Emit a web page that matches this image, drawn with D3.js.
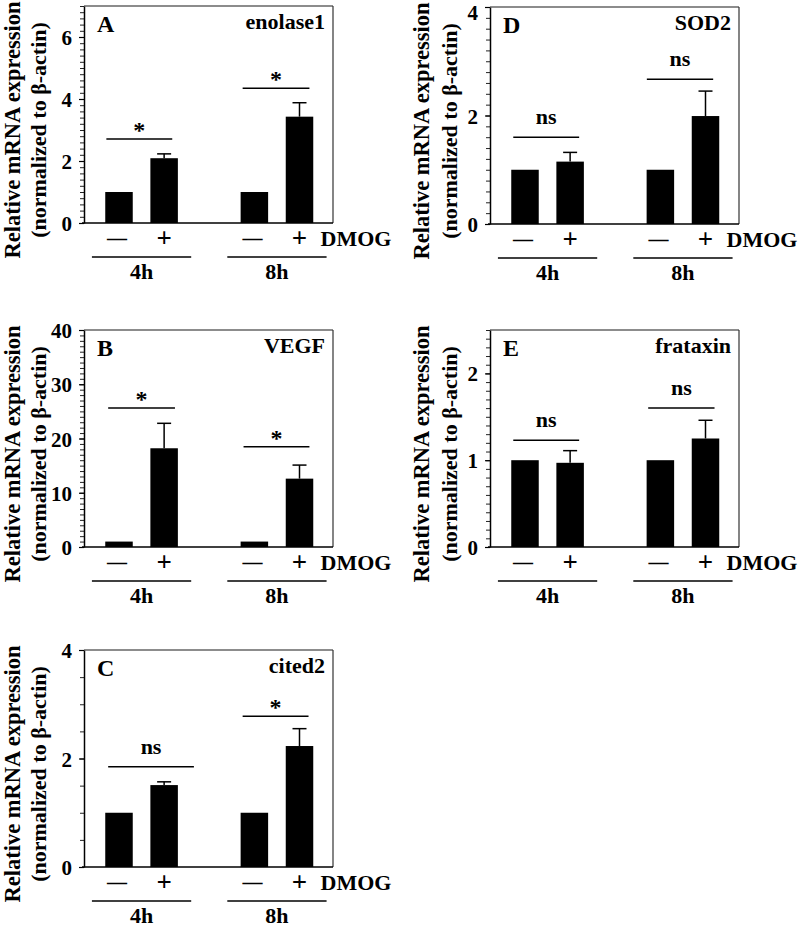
<!DOCTYPE html>
<html><head><meta charset="utf-8">
<script src="https://cdn.jsdelivr.net/npm/d3@7"></script>
<style>body{margin:0;background:#fff}svg text{font-family:"Liberation Serif","Times New Roman",serif;font-weight:bold;fill:#000}</style>
</head><body><svg id="c" width="800" height="928" font-family="Liberation Serif"></svg>
<script>
// ---- data ----
const panelLetters = ["A", "B", "C", "D", "E"];
const genes = ["enolase1", "VEGF", "cited2", "SOD2", "frataxin"];
const yMax = [7, 40, 4, 4, 2.5];
const yMajorStep = [2, 10, 2, 2, 1];
const yMinorStep = [0.2, 1, 0.5, 0.2, 0.1];
const treatments = ["—", "+", "—", "+"];
const timepoints = ["4h", "8h"];
const slots = [0, 1, 3, 4];
const enolase1 = [1, 2.09, 1, 3.43];
const enolase1Err = [0, 0.14, 0, 0.45];
const vegf = [1, 18.2, 1, 12.6];
const vegfErr = [0, 4.6, 0, 2.5];
const cited2 = [1, 1.51, 1, 2.23];
const cited2Err = [0, 0.06, 0, 0.32];
const sod2 = [1, 1.15, 1, 1.99];
const sod2Err = [0, 0.17, 0, 0.46];
const frataxin = [1, 0.97, 1, 1.25];
const frataxinErr = [0, 0.14, 0, 0.21];
const sigLabels = [["*", "*"], ["*", "*"], ["ns", "*"], ["ns", "ns"], ["ns", "ns"]];
const sigY = [[2.71, 4.35], [25.6, 18.5], [1.85, 2.78], [1.60, 2.67], [1.23, 1.60]];
const sigSpan = [
  [[-0.28, 1.18], [2.74, 4.22]],
  [[-0.24, 1.24], [2.76, 4.22]],
  [[-0.24, 1.66], [2.74, 4.2]],
  [[-0.26, 1.2], [2.7, 4.17]],
  [[-0.26, 1.2], [2.73, 4.2]]
];
const groupSpan = [[-0.6, 1.6], [2.4, 4.6]];
const means = [enolase1, vegf, cited2, sod2, frataxin];
const errs = [enolase1Err, vegfErr, cited2Err, sod2Err, frataxinErr];

// ---- layout ----
const frames = [
  {x: 84, y: 6, lab1: 20, lab2: 46},
  {x: 84, y: 330, lab1: 20, lab2: 46},
  {x: 84, y: 650, lab1: 20, lab2: 46},
  {x: 490, y: 7, lab1: 429, lab2: 457},
  {x: 490, y: 330, lab1: 429, lab2: 457}
];
const W = 249, H = 217, barW = 27.5;
const svg = d3.select("#c");

panelLetters.forEach((L, i) => {
  const f = frames[i];
  const g = svg.append("g").attr("transform", `translate(${f.x},${f.y})`);
  const x = d3.scaleLinear().domain([0, 4]).range([35, 215.5]);
  const y = d3.scaleLinear().domain([0, yMax[i]]).range([H, 0]);

  // frame top & right
  g.append("line").attr("x1", 0).attr("x2", W).attr("y1", 0).attr("y2", 0).attr("stroke", "#666").attr("stroke-width", 1.5);
  g.append("line").attr("x1", W).attr("x2", W).attr("y1", 0).attr("y2", H).attr("stroke", "#333").attr("stroke-width", 1.2);

  // minor ticks
  const minor = d3.range(0, yMax[i] + 1e-9, yMinorStep[i]);
  const ma = g.append("g").call(d3.axisLeft(y).tickValues(minor).tickSize(4).tickSizeOuter(0).tickFormat(""));
  ma.selectAll("line").attr("stroke", "#222").attr("stroke-width", 1);
  ma.select(".domain").remove();
  const major = d3.range(0, yMax[i] + 1e-9, yMajorStep[i]);
  const ax = g.append("g").call(d3.axisLeft(y).tickValues(major).tickSize(5).tickSizeOuter(0).tickPadding(7).tickFormat(d3.format("d")));
  ax.attr("font-family", null).attr("font-size", null);
  ax.select(".domain").attr("stroke", "#000").attr("stroke-width", 1.5);
  ax.selectAll("line").attr("stroke", "#000").attr("stroke-width", 1.2);
  ax.selectAll("text").attr("font-size", 21).attr("dy", "0.36em").attr("fill", "#000");
  // keep labels inside the page
  ax.selectAll("text").each(function () {
    const b = this.getBBox();
    const tickY = y(+d3.select(this).datum());
    const top = f.y + tickY + b.y;
    if (top < 0) d3.select(this).attr("y", -top + 0.5);
  });

  // zero line
  g.append("line").attr("x1", -2).attr("x2", W).attr("y1", H).attr("y2", H).attr("stroke", "#000").attr("stroke-width", 1.5);

  // bars
  const data = slots.map((s, k) => ({s, v: means[i][k], e: errs[i][k]}));
  g.selectAll("rect.bar").data(data).join("rect").attr("class", "bar")
    .attr("x", d => x(d.s) - barW / 2).attr("width", barW)
    .attr("y", d => y(d.v)).attr("height", d => H - y(d.v)).attr("fill", "#000");
  const ed = data.filter(d => d.e > 0);
  g.selectAll("line.err").data(ed).join("line").attr("class", "err")
    .attr("x1", d => x(d.s)).attr("x2", d => x(d.s)).attr("y1", d => y(d.v)).attr("y2", d => y(d.v + d.e))
    .attr("stroke", "#000").attr("stroke-width", 1.5);
  g.selectAll("line.cap").data(ed).join("line").attr("class", "cap")
    .attr("x1", d => x(d.s) - 7).attr("x2", d => x(d.s) + 7).attr("y1", d => y(d.v + d.e)).attr("y2", d => y(d.v + d.e))
    .attr("stroke", "#000").attr("stroke-width", 1.5);

  // significance
  [0, 1].forEach(k => {
    const yy = y(sigY[i][k]);
    const sp = sigSpan[i][k];
    g.append("line").attr("x1", x(sp[0])).attr("x2", x(sp[1])).attr("y1", yy).attr("y2", yy).attr("stroke", "#000").attr("stroke-width", 1.5);
    const cx = (x(sp[0]) + x(sp[1])) / 2;
    const lab = sigLabels[i][k];
    g.append("text").attr("x", cx).attr("y", lab === "*" ? yy - 1 : yy - 13).attr("text-anchor", "middle")
      .attr("font-size", lab === "*" ? 24 : 22).text(lab);
  });

  // panel letter + gene
  g.append("text").attr("x", 13).attr("y", 26).attr("font-size", 24).text(L);
  g.append("text").attr("x", W - 8).attr("y", 23).attr("text-anchor", "end").attr("font-size", 22).text(genes[i]);

  // treatments
  slots.forEach((s, k) => {
    const plus = treatments[k] === "+";
    g.append("text").attr("x", x(s) - (plus ? 0 : 2)).attr("y", H + (plus ? 24 : 22)).attr("text-anchor", "middle")
      .attr("font-size", plus ? 27 : 20).text(treatments[k]);
  });
  g.append("text").attr("x", x(4) + 21).attr("y", H + 23).attr("font-size", 22).text("DMOG");

  // time groups
  timepoints.forEach((t, k) => {
    const sp = groupSpan[k];
    g.append("line").attr("x1", x(sp[0])).attr("x2", x(sp[1])).attr("y1", H + 34).attr("y2", H + 34).attr("stroke", "#000").attr("stroke-width", 1.5);
    g.append("text").attr("x", (x(sp[0]) + x(sp[1])) / 2).attr("y", H + 56).attr("text-anchor", "middle").attr("font-size", 22).text(t);
  });

  // y label
  const cy = f.y + 124;
  svg.append("text").attr("transform", `translate(${f.lab1},${cy}) rotate(-90)`).attr("text-anchor", "middle").attr("font-size", 22.5).text("Relative mRNA expression");
  svg.append("text").attr("transform", `translate(${f.lab2},${cy}) rotate(-90)`).attr("text-anchor", "middle").attr("font-size", 22).text("(normalized to  β-actin)");
});
</script></body></html>
